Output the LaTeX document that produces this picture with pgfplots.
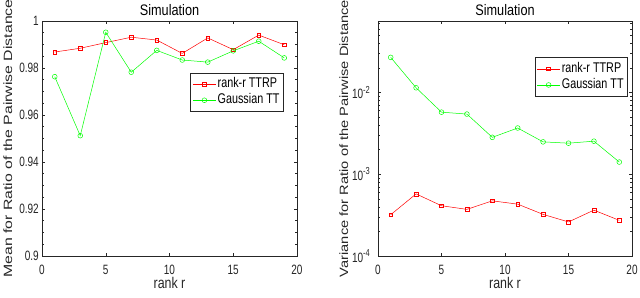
\documentclass[border=0pt]{standalone}
\usepackage{fontspec}
\setmainfont{Liberation Sans}
\usepackage{graphicx}
\usepackage{pgfplots}
\pgfplotsset{compat=1.18}
\definecolor{mred}{RGB}{255,0,0}
\definecolor{mgreen}{RGB}{0,255,0}
\definecolor{axgray}{RGB}{38,38,38}
\newcommand{\sexp}[1]{\raisebox{0.42em}{\fontsize{7.5bp}{8bp}\selectfont #1}}
\newcommand{\vs}[2]{\scalebox{1}[#1]{#2}}
\pgfplotsset{
  every axis title shift=0pt,
  mstyle/.style={
    scale only axis,
    width=255bp, height=235bp,
    xmin=0, xmax=20, xtick={0,5,10,15,20},
    axis line style={axgray, line width=0.5bp},
    every tick/.style={axgray, line width=0.5bp},
    major tick length=3bp, minor tick length=1.8bp,
    tick align=inside,
    tick label style={font=\fontsize{10bp}{12bp}\selectfont, text=axgray},
    /pgf/number format/assume math mode=true,
    xticklabel={\vs{1.35}{\pgfmathprintnumber{\tick}}},
    xticklabel style={anchor=base, yshift=-18.7bp},
    yticklabel style={anchor=east, inner sep=0pt, xshift=-3bp},
    title style={at={(axis description cs:0.5,1.0245)}, anchor=base, font=\fontsize{12.7bp}{14bp}\selectfont},
    xlabel style={at={(axis description cs:0.5,-0.139)}, anchor=base, font=\fontsize{12.4bp}{14bp}\selectfont, text=axgray},
    ylabel style={at={(axis description cs:-0.1176,0.5)}, anchor=base, font=\fontsize{12bp}{14bp}\selectfont, text=axgray},
    legend style={font=\fontsize{10.8bp}{13bp}\selectfont, draw=axgray, line width=0.5bp, inner xsep=2bp, inner ysep=3bp, row sep=0bp,
      nodes={inner sep=1.5bp, text height=10.1bp, text depth=3.1bp}, legend cell align=left, anchor=north east},
    legend image code/.code={\draw[mark repeat=2,mark phase=2,#1] plot coordinates {(0bp,0bp)(11.5bp,0bp)(23bp,0bp)};},
  }
}
\begin{document}
\begin{tikzpicture}
\useasboundingbox (0,0) rectangle (640bp,298bp);
\begin{axis}[mstyle,
  at={(378bp,42bp)}, anchor=south west, width=254bp,
  ymode=log, log basis y=10, ymin=1e-4, ymax=0.075,
  ytick={1e-4,1e-3,1e-2},
  yticklabels={\vs{1.35}{10\sexp{-4}},\vs{1.35}{10\sexp{-3}},\vs{1.35}{10\sexp{-2}}},
  minor ytick={2e-4,3e-4,4e-4,5e-4,6e-4,7e-4,8e-4,9e-4,2e-3,3e-3,4e-3,5e-3,6e-3,7e-3,8e-3,9e-3,2e-2,3e-2,4e-2,5e-2,6e-2,7e-2},
  yticklabel style={xshift=-5bp},
  title={\vs{1.2}{Simulation}}, xlabel={\vs{1.25}{rank r}},
  ylabel={\scalebox{1.22}[1]{Variance for Ratio of the Pairwise Distance}},
  legend style={at={(0.982,0.845)}},
]
\addplot[color=mred, line width=0.5bp, mark=square, mark size=1.9bp, mark options={solid, mred, line width=0.5bp}] coordinates {(1,3.2e-4)(3,5.75e-4)(5,4.12e-4)(7,3.72e-4)(9,4.73e-4)(11,4.31e-4)(13,3.23e-4)(15,2.61e-4)(17,3.64e-4)(19,2.73e-4)};
\addlegendentry{\vs{1.3}{rank-r TTRP}}
\addplot[color=mgreen, line width=0.5bp, mark=o, mark size=2.4bp, mark options={solid, mgreen, line width=0.5bp}] coordinates {(1,0.0269)(3,0.01143)(5,0.00575)(7,0.00545)(9,0.00283)(11,0.00368)(13,0.00249)(15,0.00240)(17,0.00254)(19,0.00141)};
\addlegendentry{\vs{1.3}{Gaussian TT}}
\end{axis}
\begin{axis}[mstyle,
  at={(42bp,42bp)}, anchor=south west,
  ymin=0.9, ymax=1, ytick={0.9,0.92,0.94,0.96,0.98,1},
  yticklabel={\vs{1.35}{\pgfmathprintnumber{\tick}}},
  minor y tick num=3,
  title={\vs{1.2}{Simulation}}, xlabel={\vs{1.25}{rank r}},
  ylabel={\scalebox{1.32}[1]{Mean for Ratio of the Pairwise Distance}},
  legend style={at={(0.946,0.780)}},
]
\addplot[color=mred, line width=0.5bp, mark=square, mark size=1.9bp, mark options={solid, mred, line width=0.5bp}] coordinates {(1,0.9868)(3,0.9884)(5,0.9908)(7,0.9931)(9,0.9919)(11,0.9862)(13,0.9928)(15,0.9878)(17,0.9940)(19,0.9899)};
\addlegendentry{\vs{1.3}{rank-r TTRP}}
\addplot[color=mgreen, line width=0.5bp, mark=o, mark size=2.4bp, mark options={solid, mgreen, line width=0.5bp}] coordinates {(1,0.9763)(3,0.9512)(5,0.9952)(7,0.9782)(9,0.9875)(11,0.9834)(13,0.9825)(15,0.9873)(17,0.9914)(19,0.9843)};
\addlegendentry{\vs{1.3}{Gaussian TT}}
\end{axis}
\end{tikzpicture}
\end{document}
